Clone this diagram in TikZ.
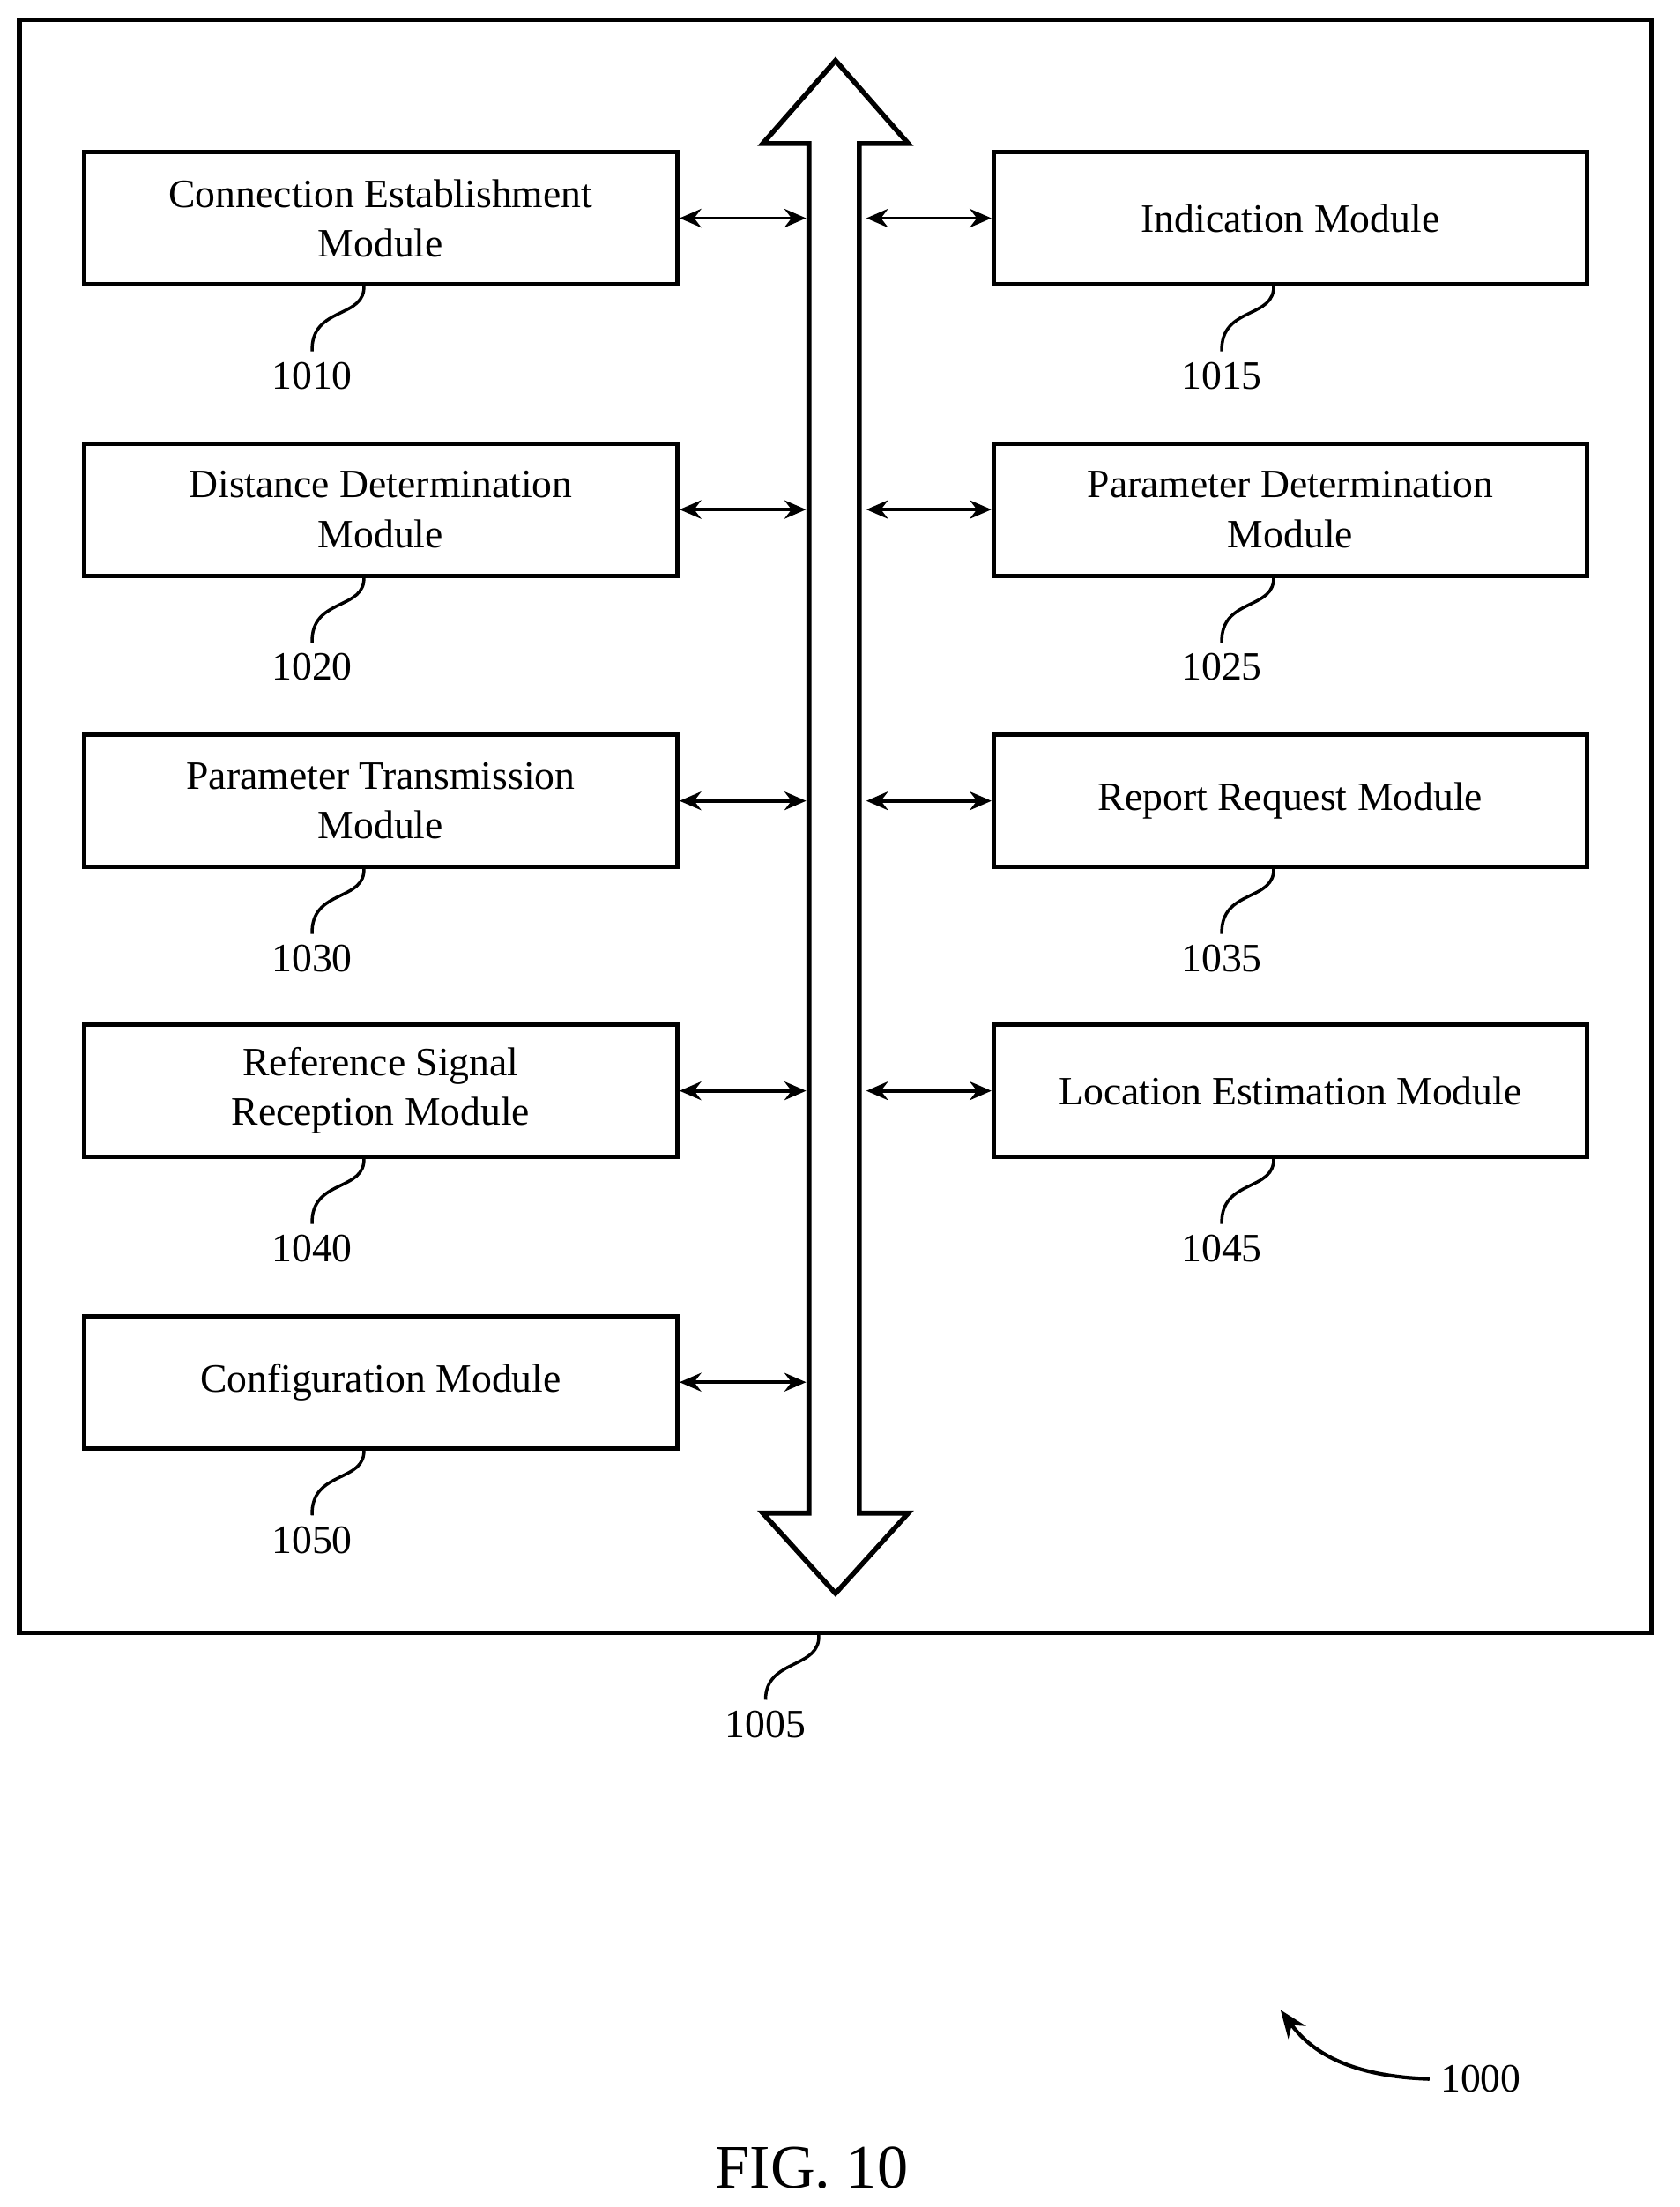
\documentclass[tikz,border=0pt]{standalone}
\usepackage{fontspec}
\setmainfont{Liberation Serif}
\usetikzlibrary{arrows.meta}
\begin{document}
\begin{tikzpicture}[x=0.01588cm,y=-0.01597cm,
 box/.style={draw,line width=1.4pt,minimum width=424*0.01588cm,minimum height=94*0.01597cm,align=center,font=\fontsize{13}{16}\selectfont,inner sep=0pt},
 lab/.style={font=\fontsize{13}{16}\selectfont},
 conn/.style={line width=1.1pt,{Stealth[length=7pt,width=6pt]}-{Stealth[length=7pt,width=6pt]}},
 sq/.style={line width=1pt}]
\useasboundingbox (0,0) rectangle (1200,1568);
\node[draw,line width=1.6pt,minimum width=1166*0.01588cm,minimum height=1146*0.01597cm,inner sep=0pt] (outer) at (597,587) {};
\draw[line width=1.6pt,fill=white] (578,102) -- (545,102) -- (597,43) -- (649,102) -- (614,102) -- (614,1075) -- (649,1075) -- (597,1132) -- (545,1075) -- (578,1075) -- cycle;
\coordinate (busL) at (578,0); \coordinate (busR) at (614,0);
\foreach \n/\y/\t in {1010/155/{Connection Establishment\\Module},1020/362/{Distance Determination\\Module},1030/569/{Parameter Transmission\\Module},1040/775/{Reference Signal\\Reception Module},1050/982/{Configuration Module}}{
 \node[box] (b\n) at (272,\y) {\t};
 \coordinate (e\n) at (576,\y);
 \draw[conn] (b\n.east) -- (e\n);
 \node[lab] (l\n) at (223,\y+112) {\n};
 \draw[sq] (260,\y+47) .. controls (262,\y+72) and (222,\y+62) .. (l\n.north);
}
\foreach \n/\y/\t in {1015/155/{Indication Module},1025/362/{Parameter Determination\\Module},1035/569/{Report Request Module},1045/775/{Location Estimation Module}}{
 \node[box] (b\n) at (922,\y) {\t};
 \coordinate (e\n) at (619,\y);
 \draw[conn] (e\n) -- (b\n.west);
 \node[lab] (l\n) at (873,\y+112) {\n};
 \draw[sq] (910,\y+47) .. controls (912,\y+72) and (872,\y+62) .. (l\n.north);
}
\node[lab] (l1005) at (547,1225) {1005};
\draw[sq] (585,1161) .. controls (587,1186) and (547,1178) .. (l1005.north);
\node[lab] (l1000) at (1058,1477) {1000};
\coordinate (a1000) at (915,1428);
\draw[line width=1.2pt,-{Stealth[length=9pt,width=7pt]}] (l1000.west) .. controls (960,1475) and (935,1455) .. (a1000);
\node[font=\fontsize{20}{24}\selectfont] (fig) at (580,1540) {FIG. 10};
\end{tikzpicture}
\end{document}
